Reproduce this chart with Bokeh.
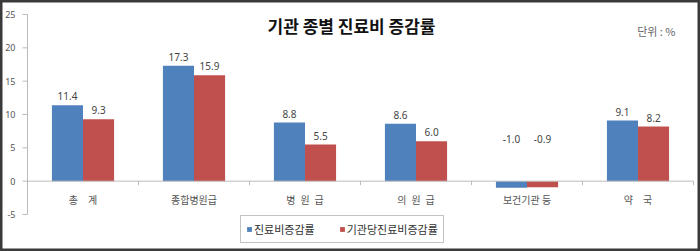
import numpy as np
from bokeh.plotting import figure
from bokeh.models import ColumnDataSource, Label, Legend, LegendItem, Range1d
from bokeh.core.properties import value
from bokeh.embed import file_html
from bokeh.resources import INLINE

categories = ["총\u3000계", "종합병원급", "병\u2002원\u2002급", "의\u2002원\u2002급", "보건기관 등", "약\u3000국"]
series_names = ["진료비증감률", "기관당진료비증감률"]
total_rate = [11.4, 17.3, 8.8, 8.6, -1.0, 9.1]
per_inst_rate = [9.3, 15.9, 5.5, 6.0, -0.9, 8.2]
y_ticks = [-5, 0, 5, 10, 15, 20, 25]

FONT = "Noto Sans CJK KR"
NUMFONT = "Noto Sans"
BLUE = "#4F81BD"
RED = "#C0504D"
AXIS = "#BBBBBB"

W, H = 700, 251
n = len(categories)
y_lo, y_hi = min(y_ticks), max(y_ticks)
# plot area of the original chart, in pixels
left_px, right_px, top_px, bottom_px = 27, 693, 14, 214
ppx = (right_px - left_px) / n            # px per category
ppy = (bottom_px - top_px) / (y_hi - y_lo)  # px per unit

centers = np.arange(n) + 0.5
bw = 0.28
NEG_LABEL_LEVEL = 5.0  # where Excel parked the labels of the negative bars

def make_src(vals, shift):
    return ColumnDataSource(dict(
        x=[float(c + shift) for c in centers],
        top=list(vals),
        ly=[float(v) if v >= 0 else NEG_LABEL_LEVEL for v in vals],
        txt=[f"{v:.1f}" for v in vals],
    ))

s1 = make_src(total_rate, -bw / 2)
s2 = make_src(per_inst_rate, bw / 2)

p = figure(width=W, height=H, output_backend="svg", toolbar_location=None,
           x_range=Range1d(-left_px / ppx, n + (W - right_px) / ppx),
           y_range=Range1d(y_lo - (H - bottom_px) / ppy, y_hi + top_px / ppy),
           x_axis_location=None, y_axis_location=None,
           min_border_left=0, min_border_right=0, min_border_top=0, min_border_bottom=0)
p.outline_line_color = "#3a3a3a"
p.outline_line_width = 4
p.grid.grid_line_color = None
p.background_fill_color = "white"
p.border_fill_color = "white"

r1 = p.vbar(x="x", top="top", bottom=0, width=bw, source=s1, fill_color=BLUE, line_color=None)
r2 = p.vbar(x="x", top="top", bottom=0, width=bw, source=s2, fill_color=RED, line_color=None)

for s in (s1, s2):
    p.text(x="x", y="ly", text="txt", source=s, text_font=value(NUMFONT),
           text_font_size="10px", text_color="#444444", text_align="center",
           text_baseline="bottom", y_offset=-5)

# value axis (left)
p.segment(x0=[0], x1=[0], y0=[y_lo], y1=[y_hi], line_color=AXIS, line_width=1)
p.segment(x0=[0] * len(y_ticks), x1=[-5 / ppx] * len(y_ticks), y0=y_ticks, y1=y_ticks,
          line_color=AXIS, line_width=1)
p.text(x=[0] * len(y_ticks), y=y_ticks, text=[str(t) for t in y_ticks],
       text_font=value(NUMFONT), text_font_size="9px", text_color="#555555",
       text_align="right", text_baseline="middle", x_offset=-12)

# category axis at zero
p.segment(x0=[0], x1=[n], y0=[0], y1=[0], line_color=AXIS, line_width=1)
bounds = [float(b) for b in np.arange(n + 1)]
p.segment(x0=bounds, x1=bounds, y0=[0] * len(bounds), y1=[-4 / ppy] * len(bounds),
          line_color=AXIS, line_width=1)
p.text(x=[float(c) for c in centers], y=[0] * n, text=categories,
       text_font=value(FONT), text_font_size="10px", text_color="#555555",
       text_align="center", text_baseline="middle", y_offset=18)

# title and unit
p.add_layout(Label(x=351, y=H - 25, x_units="screen", y_units="screen",
                   text="기관 종별 진료비 증감률", text_font=FONT, text_font_size="17px",
                   text_font_style="bold", text_color="#111111",
                   text_align="center", text_baseline="middle"))
p.add_layout(Label(x=675, y=H - 30, x_units="screen", y_units="screen",
                   text="단위 : %", text_font=FONT, text_font_size="11px",
                   text_color="#666666", text_align="right", text_baseline="middle"))

legend = Legend(items=[LegendItem(label=series_names[0], renderers=[r1]),
                       LegendItem(label=series_names[1], renderers=[r2])],
                orientation="horizontal", location=(240, 8),
                label_text_font=FONT, label_text_font_size="11px", label_text_color="#333333",
                glyph_width=6, glyph_height=6, label_standoff=2, label_height=14,
                spacing=24, padding=5, margin=0,
                border_line_color="#888888", border_line_width=1,
                background_fill_color="white", background_fill_alpha=1)
p.add_layout(legend, "center")

open("out.html", "w").write(file_html(p, INLINE))
